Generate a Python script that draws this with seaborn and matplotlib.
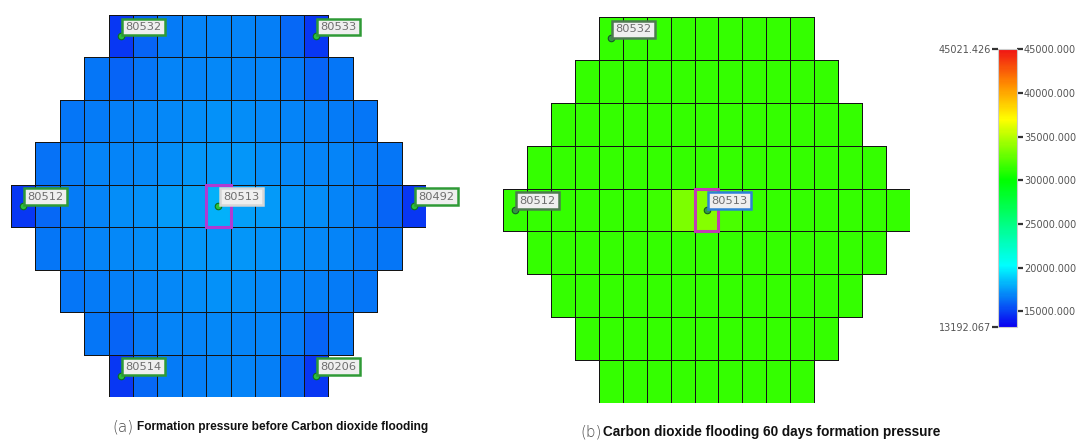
import numpy as np
import pandas as pd
import matplotlib
matplotlib.use("Agg")
import matplotlib.pyplot as plt
from matplotlib.colors import LinearSegmentedColormap, to_rgba
from matplotlib.patches import Rectangle
from matplotlib import font_manager
import seaborn as sns

sns.set_theme(style="white")
plt.rcParams["font.family"] = ["DejaVu Sans"]

# ---------------- data ----------------
N_COLS = 17
P_MIN, P_MAX = 13192.067, 45021.426

# formation pressure before CO2 flooding, one list per grid row (centred rows)
before_rows = [
    [14750, 16050, 16600, 16800, 16850, 16800, 16750, 16100, 14700],
    [16450, 16000, 16500, 16800, 16900, 16950, 16900, 16850, 16550, 16050, 16500],
    [16500, 16550, 16700, 16850, 16950, 17100, 17200, 17100, 16950, 16850, 16700, 16600, 16500],
    [16400, 16600, 16800, 16900, 17000, 17150, 17300, 17350, 17300, 17150, 17000, 16900, 16800, 16600, 16450],
    [14800, 16100, 16650, 16900, 17050, 17250, 17450, 17650, 18050, 17650, 17450, 17250, 17050, 16850, 16600, 16050, 14750],
    [16450, 16600, 16800, 16950, 17050, 17200, 17350, 17400, 17350, 17200, 17050, 16950, 16800, 16600, 16450],
    [16500, 16600, 16750, 16900, 17000, 17100, 17200, 17100, 17000, 16900, 16750, 16600, 16500],
    [16450, 16050, 16550, 16800, 16900, 16950, 16900, 16800, 16550, 16050, 16450],
    [14700, 16100, 16550, 16750, 16850, 16800, 16700, 16150, 14750],
]

# formation pressure after 60 days of CO2 flooding
after_rows = [
    [31400, 31400, 31400, 31400, 31400, 31400, 31400, 31400, 31400],
    [31400, 31400, 31400, 31400, 31400, 31400, 31400, 31400, 31400, 31400, 31400],
    [31400, 31400, 31400, 31400, 31400, 31400, 31400, 31400, 31400, 31400, 31400, 31400, 31400],
    [31400, 31400, 31400, 31400, 31400, 31400, 31400, 31400, 31400, 31400, 31400, 31400, 31400, 31400, 31400],
    [31400, 31400, 31400, 31400, 31400, 31400, 31600, 33400, 33600, 32000, 31500, 31400, 31400, 31400, 31400, 31400, 31400],
    [31400, 31400, 31400, 31400, 31400, 31400, 31400, 31400, 31400, 31400, 31400, 31400, 31400, 31400, 31400],
    [31400, 31400, 31400, 31400, 31400, 31400, 31400, 31400, 31400, 31400, 31400, 31400, 31400],
    [31400, 31400, 31400, 31400, 31400, 31400, 31400, 31400, 31400, 31400, 31400],
    [31400, 31400, 31400, 31400, 31400, 31400, 31400, 31400, 31400],
]

# wells: (name, grid row, grid column)
wells_before = [("80532", 0, 4), ("80533", 0, 12), ("80512", 4, 0), ("80513", 4, 8),
                ("80492", 4, 16), ("80514", 8, 4), ("80206", 8, 12)]
wells_after = [("80532", 0, 4), ("80512", 4, 0), ("80513", 4, 8)]
focus_cell = (4, 8)

colorbar_ticks = [15000, 20000, 25000, 30000, 35000, 40000, 45000]


def to_grid(rows):
    grid = np.full((len(rows), N_COLS), np.nan)
    for r, vals in enumerate(rows):
        start = (N_COLS - len(vals)) // 2
        grid[r, start:start + len(vals)] = vals
    return pd.DataFrame(grid)


df_before = to_grid(before_rows)
df_after = to_grid(after_rows)

# rainbow map: blue -> cyan -> green -> yellow -> orange -> red
def frac(v):
    return (v - P_MIN) / (P_MAX - P_MIN)

cmap = LinearSegmentedColormap.from_list("pressure", [
    (0.0, "#0a00f0"),
    (frac(20200), "#00ffff"),
    (frac(30000), "#00ff00"),
    (frac(37000), "#ffff00"),
    (frac(41000), "#ff8c00"),
    (1.0, "#f01414"),
])

# ---------------- figure ----------------
W, H = 1077, 442
fig = plt.figure(figsize=(W / 100, H / 100), dpi=100)
fig.patch.set_facecolor("white")


def px_axes(x0, y0, x1, y1):
    return fig.add_axes([x0 / W, 1 - y1 / H, (x1 - x0) / W, (y1 - y0) / H])


ax_l = px_axes(11, 15, 426, 397)
ax_r = px_axes(503, 17, 910, 403)
cax = px_axes(998, 49, 1017, 327)

hm_kw = dict(cmap=cmap, vmin=P_MIN, vmax=P_MAX, linewidths=0.65, linecolor="#111111",
             xticklabels=False, yticklabels=False)
sns.heatmap(df_before, ax=ax_l, cbar=False, **hm_kw)
sns.heatmap(df_after, ax=ax_r, cbar=True, cbar_ax=cax, **hm_kw)

# cell borders only around active cells (no lines outside the reservoir)
for ax, df in ((ax_l, df_before), (ax_r, df_after)):
    mesh = ax.collections[0]
    active = ~np.isnan(df.values.ravel())
    edge = np.array([to_rgba("#141414", 1.0) if a else (0, 0, 0, 0) for a in active])
    mesh.set_edgecolor(edge)
    ax.set_xlabel("")
    ax.set_ylabel("")
    for s in ax.spines.values():
        s.set_visible(False)


def draw_wells(ax, wells, edge_colors, dot_fc, dot_ec, outline_color):
    r0, c0 = focus_cell
    ax.add_patch(Rectangle((c0, r0), 1, 1, fill=False, ec=outline_color, lw=2.2, zorder=4))
    for name, r, c in wells:
        x, y = c + 0.5, r + 0.5
        ax.scatter([x], [y], s=22, fc=dot_fc, ec=dot_ec, lw=0.8, zorder=6, clip_on=False)
        ax.annotate(name, xy=(x, y), xytext=(3.2, 3.0), textcoords="offset points",
                    ha="left", va="bottom", fontsize=8.2, color="#6e6e6e", zorder=7,
                    annotation_clip=False,
                    bbox=dict(boxstyle="square,pad=0.3", fc="#efefef",
                              ec=edge_colors.get(name, edge_colors["default"]), lw=1.8))


draw_wells(ax_l, wells_before,
           {"default": "#2f9a36", "80513": "#d6d6d6"},
           "#2bc23c", "#0e6e1c", "#b03ad2")
draw_wells(ax_r, wells_after,
           {"default": "#4d7a4f", "80513": "#2f80d6"},
           "#2f9a40", "#17552a", "#c23ab4")

# ---------------- colour bar ----------------
cbar = ax_r.collections[0].colorbar
cbar.set_ticks(colorbar_ticks)
cbar.set_ticklabels([f"{v:.3f}" for v in colorbar_ticks])
cbar.ax.tick_params(axis="y", length=4, width=1.6, color="#333333",
                    labelsize=7, labelcolor="#555555", pad=1, right=True)
cbar.outline.set_edgecolor("#cccccc")
cbar.outline.set_linewidth(0.8)

sec = cax.secondary_yaxis("left")
sec.set_yticks([P_MAX, P_MIN], labels=[f"{P_MAX:.3f}", f"{P_MIN:.3f}"])
sec.tick_params(axis="y", length=4, width=1.6, color="#333333",
                labelsize=7, labelcolor="#555555", pad=1)
for s in sec.spines.values():
    s.set_visible(False)

# ---------------- captions ----------------
names = {f.name for f in font_manager.fontManager.ttflist}
cap_family = "Liberation Sans Narrow" if "Liberation Sans Narrow" in names else "Liberation Sans"

fig.text(112 / W, 1 - 427 / H, "(a)", fontsize=11, color="#444444", fontweight="light", va="center")
fig.text(137 / W, 1 - 427 / H, "Formation pressure before Carbon dioxide flooding",
         fontsize=8.6, family=cap_family, fontweight="bold", color="#111111", va="center")
fig.text(580 / W, 1 - 432 / H, "(b)", fontsize=11, color="#444444", fontweight="light", va="center")
fig.text(603 / W, 1 - 432 / H, "Carbon dioxide flooding 60 days formation pressure",
         fontsize=9.8, family=cap_family, fontweight="bold", color="#111111", va="center")

fig.savefig("out.png", dpi=100, facecolor="white")
